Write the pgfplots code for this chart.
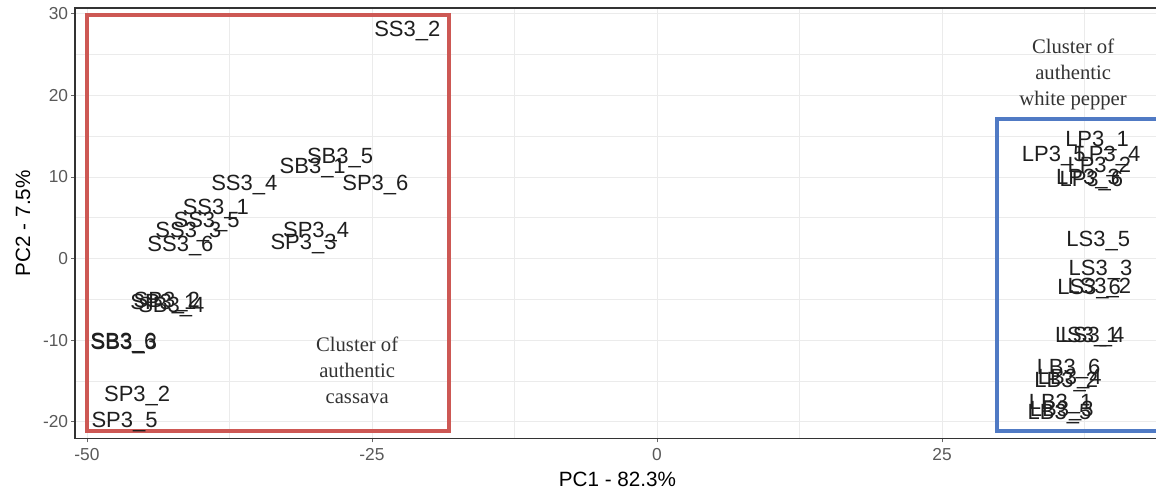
\documentclass[border=0pt]{standalone}
\usepackage{pgfplots}
\usepackage{pgfplotstable}
\pgfplotsset{compat=1.18}
\usepackage{fontspec}
\setmainfont{Liberation Sans}
\newfontfamily\seriffont{Liberation Serif}
\definecolor{boxred}{RGB}{205,88,84}
\definecolor{boxblue}{RGB}{80,122,196}
\definecolor{gridgray}{RGB}{235,235,235}

\pgfplotstableread{
x y label
-21.9 27.85 SS3\_2
-27.8 12.3 SB3\_5
-30.2 11.1 SB3\_1
-24.7 9.0 SP3\_6
-36.2 9.0 SS3\_4
-38.7 6.1 SS3\_1
-39.5 4.5 SS3\_5
-41.1 3.3 SS3\_3
-41.8 1.5 SS3\_6
-29.9 3.3 SP3\_4
-31.0 1.8 SP3\_3
-43.0 -5.3 SB3\_2
-43.3 -5.6 SP3\_1
-42.6 -5.9 SB3\_4
-46.8 -10.4 SB3\_6
-46.75 -10.45 SB3\_3
-45.6 -16.9 SP3\_2
-46.7 -20.0 SP3\_5
38.6 14.4 LP3\_1
34.8 12.5 LP3\_5
39.6 12.5 LP3\_4
38.8 11.2 LP3\_2
37.8 9.8 LP3\_3
38.1 9.5 LP3\_6
38.7 2.1 LS3\_5
38.9 -1.4 LS3\_3
37.9 -3.7 LS3\_6
38.8 -3.6 LS3\_2
37.7 -9.6 LS3\_1
38.2 -9.6 LS3\_4
36.1 -13.6 LB3\_6
35.9 -15.1 LB3\_2
36.2 -14.8 LB3\_4
35.4 -17.8 LB3\_1
35.3 -19.0 LB3\_5
35.5 -18.7 LB3\_3
}\pcadata

\begin{document}
\begin{tikzpicture}
\path[use as bounding box] (0,0) rectangle (867pt,372.75pt);
\begin{axis}[
  at={(56.25pt,44pt)}, anchor=south west,
  scale only axis, width=813.75pt, height=322.75pt,
  xmin=-51.05, xmax=44.12, ymin=-22.04, ymax=30.7,
  xtick={-50,-25,0,25}, ytick={-20,-10,0,10,20,30},
  minor xtick={-37.5,-12.5,12.5,37.5},
  minor ytick={-15,-5,5,15,25},
  grid=both,
  major grid style={gridgray!100!gray, line width=0.6pt},
  minor grid style={gridgray, line width=0.4pt},
  tick align=outside, major tick length=3pt, minor tick length=0pt,
  xtick pos=bottom, ytick pos=left,
  tick style={black!60, line width=0.6pt},
  axis line style={black!80, line width=0.9pt},
  /pgf/number format/assume math mode=true,
  ticklabel style={font=\fontsize{13}{14}\selectfont, text=black!65},
  xticklabel style={inner sep=2pt, yshift=-2pt},
  yticklabel style={inner sep=2pt},
  xlabel={PC1 - 82.3\%}, ylabel={PC2 - 7.5\%},
  every axis x label/.style={at={(axis description cs:0.5,0)}, yshift=-31pt, anchor=center, font=\fontsize{15.5}{16}\selectfont},
  every axis y label/.style={at={(axis description cs:0,0.5)}, xshift=-39pt, rotate=90, anchor=center, font=\fontsize{15.5}{16}\selectfont},
]
\draw[boxred, line width=3pt] (axis cs:-50,29.9) rectangle (axis cs:-18.25,-21.2);
\draw[boxblue, line width=3pt] (axis cs:29.8,17.05) rectangle (axis cs:47,-21.2);
\addplot[only marks, mark=none, nodes near coords, point meta=explicit symbolic,
  nodes near coords style={anchor=center, inner sep=0pt, font=\fontsize{16.5}{16.5}\selectfont, text=black!88}]
  table[x=x, y=y, meta=label] {\pcadata};
\node[align=center, font=\seriffont\fontsize{15.5}{19.5}\selectfont, text=black!80] at (axis cs:-26.3,-13.7) {Cluster of\\authentic\\cassava};
\node[align=center, font=\seriffont\fontsize{15.5}{19.5}\selectfont, text=black!80] at (axis cs:36.5,22.6) {Cluster of\\authentic\\white pepper};
\end{axis}
\end{tikzpicture}
\end{document}
